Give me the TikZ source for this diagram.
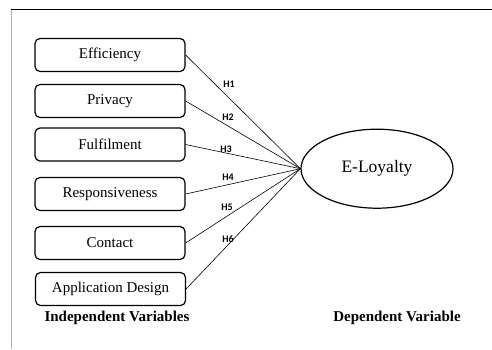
\documentclass[tikz,border=0pt]{standalone}
\usepackage{fontspec}
\setmainfont{Liberation Serif}
\newfontfamily\hfont{Carlito}
\usetikzlibrary{shapes.geometric}
\begin{document}
\begin{tikzpicture}[x=1pt,y=-1pt,
  varbox/.style={draw,line width=1.2pt,rounded corners=5pt,minimum width=150pt,minimum height=33pt,inner sep=0pt,font=\fontsize{15}{18}\selectfont},
  hlab/.style={font=\hfont\bfseries\fontsize{10}{12}\selectfont,inner sep=0pt},
  link/.style={line width=0.6pt},
  foot/.style={font=\bfseries\fontsize{15}{18}\selectfont,inner sep=0pt}]
\useasboundingbox (0,0) rectangle (492,349);
\coordinate (ftl) at (11,9.5);
\coordinate (ftr) at (492,9.5);
\coordinate (fbl) at (11,349);
\draw[line width=1.2pt] (ftl) -- (ftr);
\draw[line width=1pt,gray!60] (ftl) -- (fbl);
\node[varbox] (eff) at (110,55) {Efficiency};
\node[varbox] (pri) at (110,101) {Privacy};
\node[varbox] (ful) at (110,144.5) {Fulfilment};
\node[varbox] (res) at (110,194) {Responsiveness};
\node[varbox] (con) at (110,243) {Contact};
\node[varbox] (app) at (110.5,289) {Application Design};
\node[draw,ellipse,line width=1.2pt,minimum width=152pt,minimum height=79pt,inner sep=0pt,font=\fontsize{17.5}{20}\selectfont] (loy) at (377,168.7) {E-Loyalty};
\foreach \b in {eff,pri,ful,res,con,app}{\draw[link] (\b.east) -- (loy.west);}
\node[hlab] (h1) at (229,84) {H1};
\node[hlab] (h2) at (228,117) {H2};
\node[hlab] (h3) at (226,149) {H3};
\node[hlab] (h4) at (228,177) {H4};
\node[hlab] (h5) at (227,207) {H5};
\node[hlab] (h6) at (228,239) {H6};
\node[foot] (iv) at (117,318) {Independent Variables};
\node[foot] (dv) at (397,318) {Dependent Variable};
\end{tikzpicture}
\end{document}
